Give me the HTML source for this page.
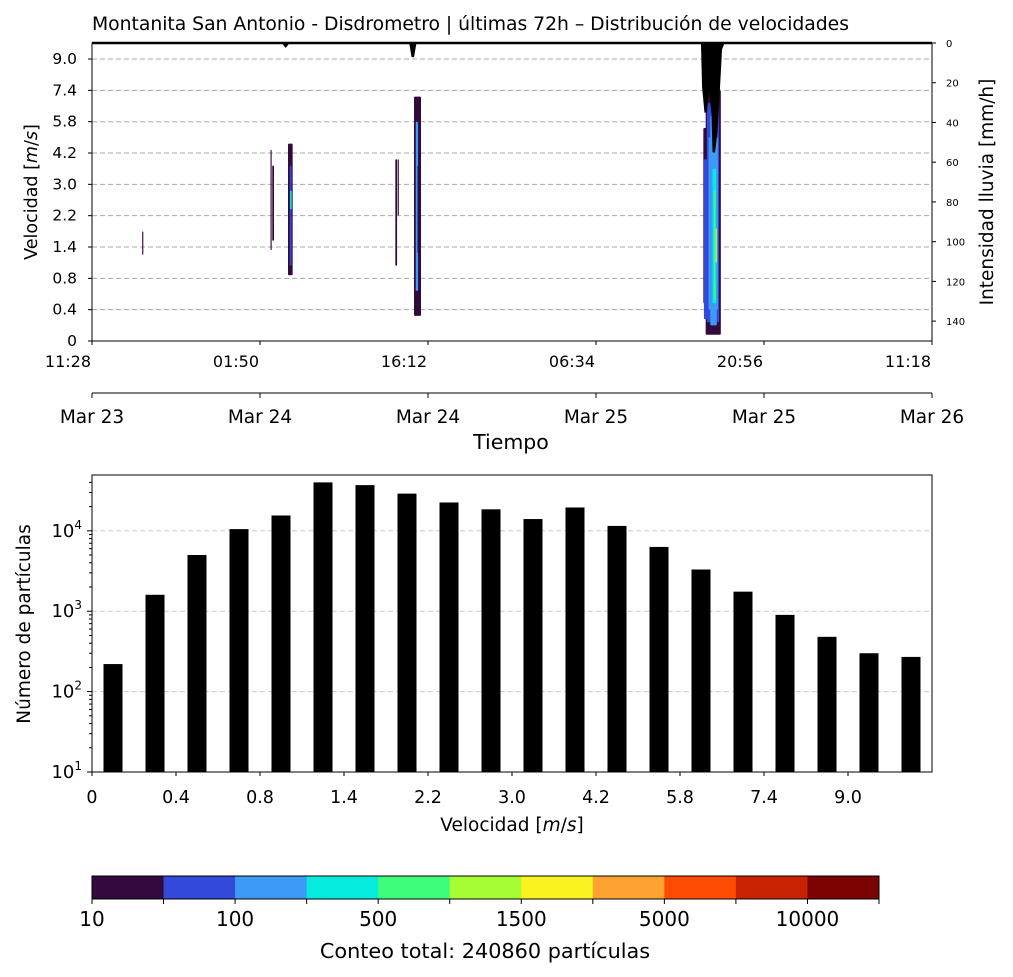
<!DOCTYPE html>
<html><head><meta charset="utf-8"><style>
body{margin:0;background:#fff;}
svg{font-family:"DejaVu Sans","Liberation Sans",sans-serif;display:block}
</style></head><body>
<svg id="s" width="1013" height="977" viewBox="0 0 1013 977"></svg>
<script>
// ---------- data ----------
const velLabels=["0","0.4","0.8","1.4","2.2","3.0","4.2","5.8","7.4","9.0"];
const timeLabels=["11:28","01:50","16:12","06:34","20:56","11:18"];
const dateLabels=["Mar 23","Mar 24","Mar 24","Mar 25","Mar 25","Mar 26"];
const rainTicks=[0,20,40,60,80,100,120,140];
// heatmap cells: start hour, end hour, velocity idx from, to, colour level
const cellT0=[4.3,15.3,15.45,16.8,16.95,16.98,26.0,26.2,27.6,27.75,27.9,52.4,52.6,52.45,52.7,52.85,53.0,53.2,53.3,53.4,53.45];
const cellT1=[4.4,15.4,15.6,17.2,17.1,17.12,26.15,26.3,28.2,27.95,28.2,53.2,53.9,53.0,53.75,53.65,53.55,53.5,53.45,53.5,53.55];
const cellV0=[2.75,2.9,3.2,2.1,2.4,4.2,2.4,4.0,0.8,1.6,2.8,1.2,0.2,0.7,0.6,1.0,0.5,1.2,1.3,1.8,2.5];
const cellV1=[3.5,6.1,5.6,6.3,5.6,4.8,5.8,5.8,7.8,7.0,5.6,6.8,8.0,5.8,7.6,6.5,7.2,5.5,4.8,4.2,3.6];
const cellL=[0,0,0,0,1,3,0,0,0,2,0,0,0,1,1,2,2,3,4,3,5];
const rainT=[0,16.4,16.6,16.8,27.3,27.5,27.7,52.3,52.4,52.6,52.8,53.0,53.2,53.3,53.5,53.7,53.9,54.1,72];
const rainV=[0,0,1.5,0,0,7,0,0,22,35,22,25,35,55,45,25,3,0,0];
// histogram
const binLabels=["0","0.4","0.8","1.4","2.2","3.0","4.2","5.8","7.4","9.0"];
const counts=[220,1600,5000,10500,15500,40000,37000,29000,22500,18500,14000,19500,11500,6300,3300,1750,900,480,300,270];
// colorbar
const cbColors=["#330a3d","#3249da","#3d9bf7","#05ecdf","#3dfd7a","#a6fd34","#fbf31f","#fea331","#fe4b03","#c82203","#7b0303"];
const cbLabels=["10","100","500","1500","5000","10000"];
const levelColors=["#330a3d","#3249da","#3d9bf7","#05ecdf","#3dfd7a","#e6f52a"];

// ---------- helpers ----------
const S=document.getElementById('s');const NS="http://www.w3.org/2000/svg";
function el(t,a,txt){const e=document.createElementNS(NS,t);for(const k in a)e.setAttribute(k,a[k]);if(txt!==undefined)e.textContent=txt;S.appendChild(e);return e;}
const X0=92,X1=932,TY0=43,TY1=341;
const xT=h=>X0+h/72*(X1-X0);
const yV=i=>TY1-i*31.33;
const yR=v=>TY0+v*(TY1-TY0)/150;
let t=el('text',{x:92,y:30,'font-size':18.8,textLength:757},"Montanita San Antonio - Disdrometro | últimas 72h – Distribución de velocidades");

velLabels.forEach((l,i)=>{ if(i>0){const g=el('line',{x1:X0,x2:X1,y1:yV(i),y2:yV(i),stroke:'#aaa','stroke-dasharray':'5,3'});
 }
 const tk=el('line',{x1:X0-4,x2:X0,y1:yV(i),y2:yV(i),stroke:'#000'});
 const tx=el('text',{x:X0-15,y:yV(i)+5,'font-size':15.5,'text-anchor':'end'},l);});
cellT0.forEach((a,i)=>{const r=el('rect',{x:xT(a),width:Math.max(1,xT(cellT1[i])-xT(a)),y:yV(cellV1[i]),height:yV(cellV0[i])-yV(cellV1[i]),fill:levelColors[cellL[i]],rx:1});
 });
let d="M"+xT(rainT[0])+","+yR(0);rainT.forEach((h,i)=>{d+=" L"+xT(h).toFixed(1)+","+yR(rainV[i]).toFixed(1);});
let rp=el('path',{d:d+" Z",fill:'#000',stroke:'#000','stroke-width':2.5});
let fr=el('rect',{x:X0,y:TY0,width:X1-X0,height:TY1-TY0,fill:'none',stroke:'#000'});
rainTicks.forEach(v=>{const tk=el('line',{x1:X1,x2:X1+4,y1:yR(v),y2:yR(v),stroke:'#000'});
 const tx=el('text',{x:X1+14,y:yR(v)+4,'font-size':10},v);});
t=el('text',{x:0,y:0,'font-size':18.5,'text-anchor':'middle',transform:'translate(993,192) rotate(-90)'},"Intensidad lluvia [mm/h]");
t=el('text',{x:0,y:0,'font-size':17.5,'text-anchor':'middle',transform:'translate(37,192) rotate(-90)'});t.innerHTML='Velocidad [<tspan font-style="italic">m</tspan>/<tspan font-style="italic">s</tspan>]';
timeLabels.forEach((l,i)=>{const x=X0+i*(X1-X0)/5;const tk=el('line',{x1:x,x2:x,y1:TY1,y2:TY1+4,stroke:'#000'});
 const tx=el('text',{x:x-1,y:367,'font-size':16,'text-anchor':'end'},l);});
let ax=el('line',{x1:X0,x2:X1,y1:393,y2:393,stroke:'#000'});
dateLabels.forEach((l,i)=>{const x=X0+i*(X1-X0)/5;const tk=el('line',{x1:x,x2:x,y1:393,y2:398,stroke:'#000'});
 const tx=el('text',{x:x,y:423,'font-size':18.5,'text-anchor':'middle'},l);});
t=el('text',{x:511,y:449,'font-size':20.5,'text-anchor':'middle'},"Tiempo");
// bottom histogram
const BY0=475,BY1=772;
const yL=v=>BY1-(Math.log10(v)-1)*80.4;
const xB=i=>X0+42*i;
[100,1000,10000].forEach(v=>{const g=el('line',{x1:X0,x2:X1,y1:yL(v),y2:yL(v),stroke:'#ccc','stroke-dasharray':'5,3'});});
counts.forEach((c,i)=>{const r=el('rect',{x:xB(i)+11.5,width:19,y:yL(c),height:BY1-yL(c),fill:'#000'});});
fr=el('rect',{x:X0,y:BY0,width:X1-X0,height:BY1-BY0,fill:'none',stroke:'#000'});
for(let e=1;e<=4;e++){const y=yL(Math.pow(10,e));const tk=el('line',{x1:X0-5,x2:X0,y1:y,y2:y,stroke:'#000'});
 const tx=el('text',{x:X0-10,y:y+6,'font-size':18,'text-anchor':'end'});tx.innerHTML='10<tspan font-size="12" dy="-8">'+e+'</tspan>';
 for(let m=2;m<10;m++){const v=m*Math.pow(10,e);if(yL(v)<BY0)break;const mk=el('line',{x1:X0-3,x2:X0,y1:yL(v),y2:yL(v),stroke:'#000'});}}
binLabels.forEach((l,i)=>{const x=xB(2*i);const tk=el('line',{x1:x,x2:x,y1:BY1,y2:BY1+4,stroke:'#000'});
 const tx=el('text',{x:x,y:803,'font-size':17.5,'text-anchor':'middle'},l);});
t=el('text',{x:512,y:831,'font-size':18.5,'text-anchor':'middle'});t.innerHTML='Velocidad [<tspan font-style="italic">m</tspan>/<tspan font-style="italic">s</tspan>]';
t=el('text',{x:0,y:0,'font-size':18.5,'text-anchor':'middle',transform:'translate(30,624) rotate(-90)'},"Número de partículas");
// colorbar
const CX0=92,CX1=879,cw=(CX1-CX0)/cbColors.length;
cbColors.forEach((c,i)=>{const r=el('rect',{x:CX0+i*cw,y:876,width:cw+0.5,height:23,fill:c});});
fr=el('rect',{x:CX0,y:876,width:CX1-CX0,height:23,fill:'none',stroke:'#000'});
for(let i=0;i<=cbColors.length;i++){const x=CX0+i*cw;const tk=el('line',{x1:x,x2:x,y1:899,y2:904,stroke:'#000'});}
cbLabels.forEach((l,i)=>{const tx=el('text',{x:CX0+2*i*cw,y:926,'font-size':20,'text-anchor':'middle'},l);});
t=el('text',{x:485,y:958,'font-size':20.8,'text-anchor':'middle'},"Conteo total: 240860 partículas");
</script>
</body></html>
